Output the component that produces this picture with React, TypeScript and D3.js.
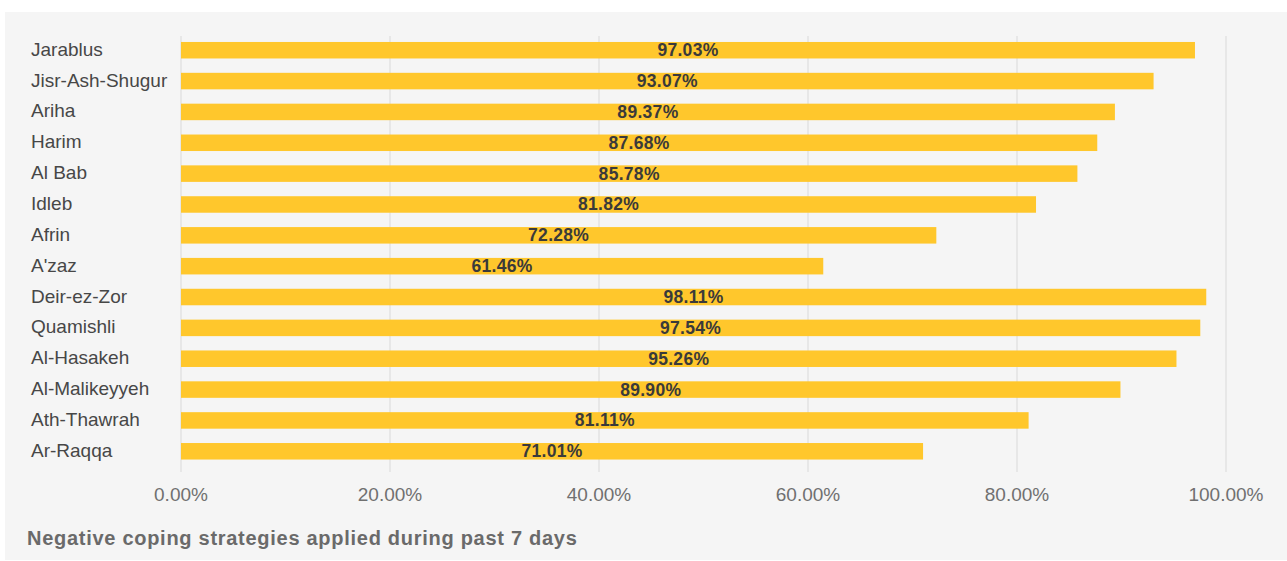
import * as d3 from "d3";

const districts = [
  "Jarablus", "Jisr-Ash-Shugur", "Ariha", "Harim", "Al Bab", "Idleb", "Afrin", "A'zaz",
  "Deir-ez-Zor", "Quamishli", "Al-Hasakeh", "Al-Malikeyyeh", "Ath-Thawrah", "Ar-Raqqa",
];
const shares = [97.03, 93.07, 89.37, 87.68, 85.78, 81.82, 72.28, 61.46, 98.11, 97.54, 95.26, 89.9, 81.11, 71.01];
const ticks = [0, 20, 40, 60, 80, 100];
const title = "Negative coping strategies applied during past 7 days";

const W = 1287;
const H = 561;
const font = "'Liberation Sans', Arial, sans-serif";

export default function App() {
  const x = d3.scaleLinear().domain([0, 100]).range([181, 1226]);
  const y = d3.scaleBand<string>().domain(districts).range([34.8, 466.7]).paddingInner(0.465).paddingOuter(0.2325);

  return (
    <svg width={W} height={H} style={{ position: "absolute", left: 0, top: 0, fontFamily: font }}>
      <rect x={0} y={0} width={W} height={H} fill="#fff" />
      <rect x={5} y={12} width={W - 5} height={548} fill="#f5f5f5" />
      {ticks.map((t) => (
        <g key={t}>
          <line x1={x(t)} x2={x(t)} y1={36} y2={472} stroke="#dedede" strokeWidth={1.2} />
          <text x={x(t)} y={501} textAnchor="middle" fontSize={19} fill="#707070">
            {t.toFixed(2)}%
          </text>
        </g>
      ))}
      {districts.map((d, i) => (
        <g key={d}>
          <rect x={x(0)} y={y(d)!} width={x(shares[i]) - x(0)} height={y.bandwidth()} fill="#ffc72c" />
          <text x={31} y={y(d)! + y.bandwidth() / 2 + 5.5} fontSize={19} fill="#474747">
            {d}
          </text>
          <text x={x(shares[i] / 2)} y={y(d)! + y.bandwidth() / 2 + 6} textAnchor="middle" fontSize={17.5} fontWeight="bold" fill="#3a3a3a" letterSpacing={0.3}>
            {shares[i].toFixed(2)}%
          </text>
        </g>
      ))}
      <text x={27} y={545} fontSize={20} fontWeight="bold" fill="#6a6a6a" letterSpacing={0.72}>
        {title}
      </text>
    </svg>
  );
}
